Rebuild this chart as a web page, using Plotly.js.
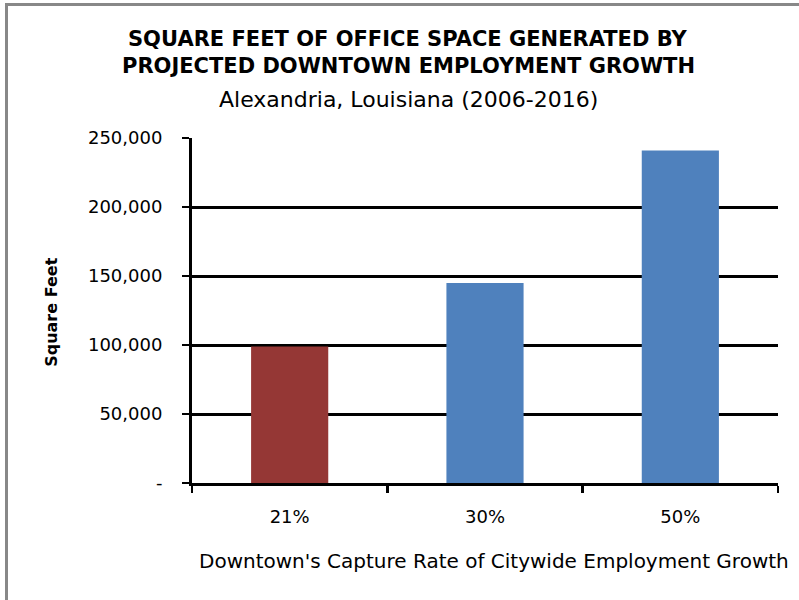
<!DOCTYPE html>
<html>
<head>
<meta charset="utf-8">
<script src="https://cdn.plot.ly/plotly-3.0.1.min.js"></script>
<style>
  body { margin: 0; background: #fff; overflow: hidden; }
  #frame { position: absolute; left: 5px; top: 3px; width: 794px; height: 597px; border-top: 3px solid #888; border-left: 3px solid #888; pointer-events: none; }
</style>
</head>
<body>
<div id="plot-area" style="width:799px;height:600px;"></div>
<div id="frame"></div>
<script>
// capture rate categories and resulting office space (sq ft)
var captureRates = ["21%", "30%", "50%"];
var squareFeet = [99000, 145000, 241000];
var barColors = ["#953735", "#4F81BD", "#4F81BD"];

var yTickVals = [0, 50000, 100000, 150000, 200000, 250000];
var yTickText = ["-", "50,000", "100,000", "150,000", "200,000", "250,000"];

var titleLines = ["SQUARE FEET OF OFFICE SPACE GENERATED BY", "PROJECTED DOWNTOWN EMPLOYMENT GROWTH"];
var subTitle = "Alexandria, Louisiana (2006-2016)";

var font = "DejaVu Sans, sans-serif";

function DrawChart() {
    var data = [
        {
            type: "bar",
            x: captureRates,
            y: squareFeet,
            marker: {color: barColors, line: {width: 0}},
            hoverinfo: "none"
        }
    ];

    var layout = {
        width: 799,
        height: 600,
        margin: {l: 192, r: 21, t: 138, b: 117},
        paper_bgcolor: "#fff",
        plot_bgcolor: "#fff",
        font: {family: font, color: "#000", size: 18},
        showlegend: false,
        bargap: 0.605,
        xaxis: {
            type: "category",
            showline: true, linecolor: "#000", linewidth: 3,
            ticks: "outside", tickson: "boundaries", ticklen: 7, tickwidth: 2.5, tickcolor: "#000",
            ticklabelstandoff: 15,
            tickfont: {size: 18},
            showgrid: false, zeroline: false
        },
        yaxis: {
            range: [0, 250000],
            tickvals: yTickVals,
            ticktext: yTickText,
            showline: true, linecolor: "#000", linewidth: 3,
            ticks: "outside", ticklen: 7, tickwidth: 2.5, tickcolor: "#000",
            ticklabelstandoff: 16,
            tickfont: {size: 18},
            showgrid: true, gridcolor: "#000", gridwidth: 3,
            zeroline: false
        },
        annotations: [
            {text: "<b>" + titleLines[0] + "</b>", xref: "paper", yref: "paper", x: 0.369, y: 1.288,
             xanchor: "center", yanchor: "middle", showarrow: false, font: {size: 21}},
            {text: "<b>" + titleLines[1] + "</b>", xref: "paper", yref: "paper", x: 0.369, y: 1.210,
             xanchor: "center", yanchor: "middle", showarrow: false, font: {size: 21}},
            {text: subTitle, xref: "paper", yref: "paper", x: 0.369, y: 1.113,
             xanchor: "center", yanchor: "middle", showarrow: false, font: {size: 22}},
            {text: "<b>Square Feet</b>", xref: "paper", yref: "paper", x: -0.239, y: 0.496,
             xanchor: "center", yanchor: "middle", textangle: -90, showarrow: false, font: {size: 16}},
            {text: "Downtown's Capture Rate of Citywide Employment Growth", xref: "paper", yref: "paper",
             x: 0.515, y: -0.226, xanchor: "center", yanchor: "middle", showarrow: false, font: {size: 20}}
        ]
    };

    Plotly.newPlot("plot-area", data, layout, {displayModeBar: false, staticPlot: true});
}

DrawChart();
</script>
</body>
</html>
